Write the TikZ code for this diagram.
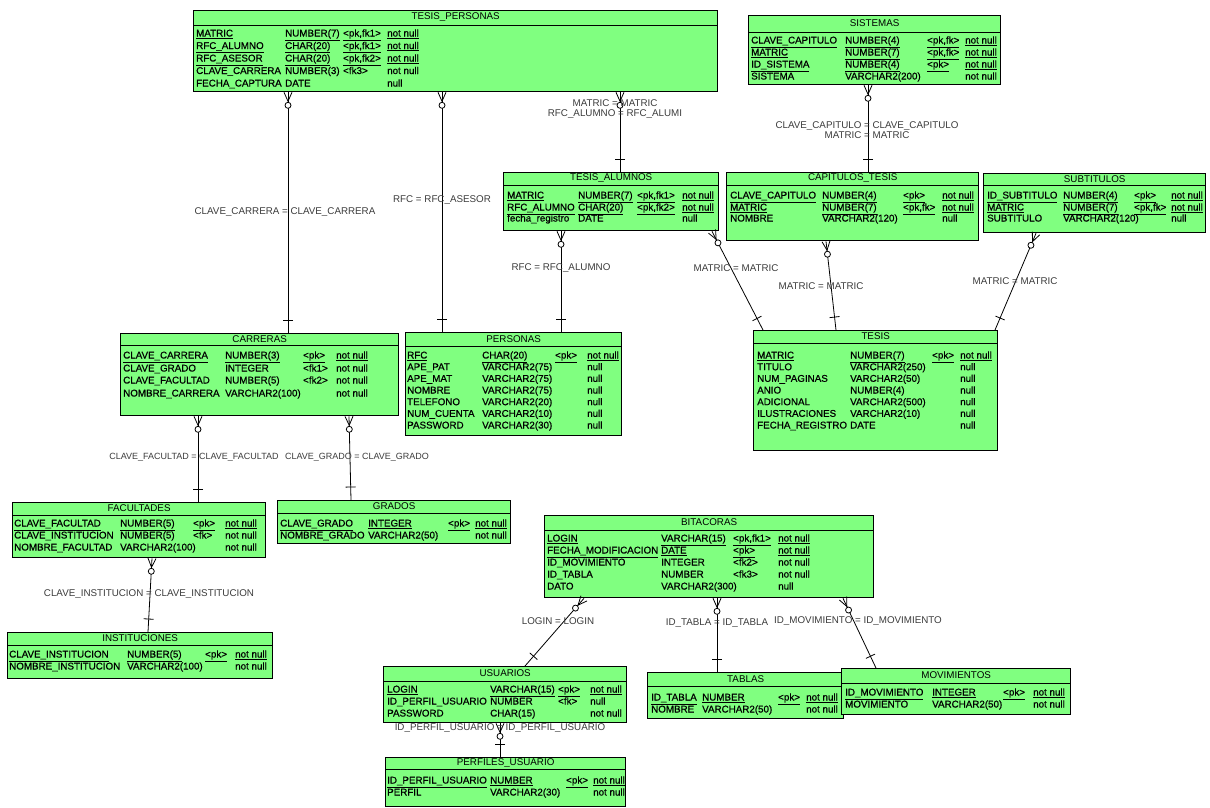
\documentclass[tikz,border=0pt]{standalone}
\usepackage{fontspec}
\setmainfont{Liberation Sans}
\newfontfamily\erfam{Liberation Sans}[FakeBold=0.6]
\usetikzlibrary{calc}
\definecolor{erfill}{RGB}{128,255,128}
\definecolor{lblgray}{RGB}{60,60,60}
\newcount\rowid
\newcount\lblid
\newcommand\erfont{\erfam\fontsize{9.8}{11}\selectfont}
\newcommand\lbfont{\fontsize{9.8}{11}\selectfont}
\tikzset{
  tbl/.style={draw=black, line width=1.3pt, fill=erfill, inner sep=0pt, anchor=north west},
  cell/.style={anchor=base west, inner sep=0pt, font=\erfont},
  ttl/.style={inner sep=0pt, font=\lbfont},
  conn/.style={draw=black, line width=0.8pt},
  sepline/.style={draw=black, line width=0.9pt},
  lbl/.style={inner sep=0pt, text=lblgray, font=\lbfont, align=center},
  smalllbl/.style={font=\fontsize{9}{10}\selectfont},
}
% table box: name, x1, y1, x2, y2, title-line y, title
\newcommand\ertable[7]{%
  \node[tbl, minimum width={(#4-#2)*1pt}, minimum height={(#5-#3)*1pt}] (#1) at (#2,#3) {};
  \draw[sepline] ($(#1.north west)+(0,#6-#3)$) -- ($(#1.north east)+(0,#6-#3)$);
  \node[ttl] (#1-t) at ($(#1.north)+(0,{(#6-#3)/2})$) {#7};
}
\newcommand\cols[4]{\def\cA{#1}\def\cB{#2}\def\cC{#3}\def\cD{#4}}
\newcommand\rowx[5]{%
  \global\advance\rowid by 1
  \node[cell] (r\the\rowid a) at (\cA,#1+3.5) {#2};
  \node[cell] (r\the\rowid b) at (\cB,#1+3.5) {#3};
  \node[cell] (r\the\rowid c) at (\cC,#1+3.5) {#4};
  \node[cell] (r\the\rowid d) at (\cD,#1+3.5) {#5};
}
\newcommand\rowk[5]{\rowx{#1}{\underline{#2}}{\underline{#3}}{\underline{#4}}{\underline{#5}}}
% relation: id, child point, parent point
\newcommand\rel[3]{%
  \coordinate (c#1) at #2;
  \coordinate (p#1) at #3;
  \draw[conn] (c#1) -- (p#1);
  \draw[conn] ($(c#1)!4pt!90:(p#1)$) -- ($(c#1)!9pt!(p#1)$) -- ($(c#1)!4pt!-90:(p#1)$);
  \draw[conn, fill=white] ($(c#1)!13pt!(p#1)$) circle (3pt);
  \coordinate (b#1) at ($(p#1)!13pt!(c#1)$);
  \draw[conn] ($(b#1)!5pt!90:(p#1)$) -- ($(b#1)!5pt!-90:(p#1)$);
}
\newcommand\rlab[4][]{\global\advance\lblid by 1 \node[lbl,#1] (l\the\lblid) at (#2,#3) {#4};}

\begin{document}
\begin{tikzpicture}[x=1pt,y=-1pt]
\path[use as bounding box, fill=white] (0,0) rectangle (1210,807);

% ---------------- tables ----------------
\ertable{tp}{193}{10}{717}{91}{25}{TESIS\_PERSONAS}
\cols{196}{285}{343}{387}
\rowk{33}{MATRIC}{NUMBER(7)}{<pk,fk1>}{not null}
\rowk{45.5}{RFC\_ALUMNO}{CHAR(20)}{<pk,fk1>}{not null}
\rowk{58}{RFC\_ASESOR}{CHAR(20)}{<pk,fk2>}{not null}
\rowx{70.5}{CLAVE\_CARRERA}{NUMBER(3)}{<fk3>}{not null}
\rowx{83}{FECHA\_CAPTURA}{DATE}{}{null}

\ertable{sis}{748}{15}{1000}{84}{32}{SISTEMAS}
\cols{751}{845}{927}{965}
\rowk{40}{CLAVE\_CAPITULO}{NUMBER(4)}{<pk,fk>}{not null}
\rowk{52}{MATRIC}{NUMBER(7)}{<pk,fk>}{not null}
\rowk{64}{ID\_SISTEMA}{NUMBER(4)}{<pk>}{not null}
\rowx{76}{SISTEMA}{VARCHAR2(200)}{}{not null}

\ertable{ta}{503}{172}{718}{230}{185}{TESIS\_ALUMNOS}
\cols{507}{578}{637}{682}
\rowk{195}{MATRIC}{NUMBER(7)}{<pk,fk1>}{not null}
\rowk{207}{RFC\_ALUMNO}{CHAR(20)}{<pk,fk2>}{not null}
\rowx{218}{fecha\_registro}{DATE}{}{null}

\ertable{ct}{726}{172}{978}{240}{185}{CAPITULOS\_TESIS}
\cols{730}{822}{903}{942}
\rowk{195}{CLAVE\_CAPITULO}{NUMBER(4)}{<pk>}{not null}
\rowk{207}{MATRIC}{NUMBER(7)}{<pk,fk>}{not null}
\rowx{218}{NOMBRE}{VARCHAR2(120)}{}{null}

\ertable{sub}{983}{173}{1205}{232}{185}{SUBTITULOS}
\cols{987}{1063}{1134}{1171}
\rowk{195}{ID\_SUBTITULO}{NUMBER(4)}{<pk>}{not null}
\rowk{207}{MATRIC}{NUMBER(7)}{<pk,fk>}{not null}
\rowx{218}{SUBTITULO}{VARCHAR2(120)}{}{null}

\ertable{car}{120}{333}{398}{415}{345}{CARRERAS}
\cols{123}{225}{303}{336}
\rowk{355}{CLAVE\_CARRERA}{NUMBER(3)}{<pk>}{not null}
\rowx{368}{CLAVE\_GRADO}{INTEGER}{<fk1>}{not null}
\rowx{380}{CLAVE\_FACULTAD}{NUMBER(5)}{<fk2>}{not null}
\rowx{393}{NOMBRE\_CARRERA}{VARCHAR2(100)}{}{not null}

\ertable{per}{405}{332}{621}{435}{346}{PERSONAS}
\cols{407}{482}{555}{587}
\rowk{355}{RFC}{CHAR(20)}{<pk>}{not null}
\rowx{366.7}{APE\_PAT}{VARCHAR2(75)}{}{null}
\rowx{378.3}{APE\_MAT}{VARCHAR2(75)}{}{null}
\rowx{390}{NOMBRE}{VARCHAR2(75)}{}{null}
\rowx{401.7}{TELEFONO}{VARCHAR2(20)}{}{null}
\rowx{413.3}{NUM\_CUENTA}{VARCHAR2(10)}{}{null}
\rowx{425}{PASSWORD}{VARCHAR2(30)}{}{null}

\ertable{tes}{753}{330}{997}{450}{343}{TESIS}
\cols{757}{850}{932}{960}
\rowk{355}{MATRIC}{NUMBER(7)}{<pk>}{not null}
\rowx{366.7}{TITULO}{VARCHAR2(250)}{}{null}
\rowx{378.3}{NUM\_PAGINAS}{VARCHAR2(50)}{}{null}
\rowx{390}{ANIO}{NUMBER(4)}{}{null}
\rowx{401.7}{ADICIONAL}{VARCHAR2(500)}{}{null}
\rowx{413.3}{ILUSTRACIONES}{VARCHAR2(10)}{}{null}
\rowx{425}{FECHA\_REGISTRO}{DATE}{}{null}

\ertable{fac}{12}{502}{265}{557}{515}{FACULTADES}
\cols{14}{120}{193}{225}
\rowk{523}{CLAVE\_FACULTAD}{NUMBER(5)}{<pk>}{not null}
\rowx{535}{CLAVE\_INSTITUCION}{NUMBER(5)}{<fk>}{not null}
\rowx{547}{NOMBRE\_FACULTAD}{VARCHAR2(100)}{}{not null}

\ertable{gra}{277}{500}{510}{543}{513}{GRADOS}
\cols{280}{368}{448}{475}
\rowk{523}{CLAVE\_GRADO}{INTEGER}{<pk>}{not null}
\rowx{535}{NOMBRE\_GRADO}{VARCHAR2(50)}{}{not null}

\ertable{ins}{7}{632}{272}{678}{645}{INSTITUCIONES}
\cols{9}{127}{205}{235}
\rowk{654}{CLAVE\_INSTITUCION}{NUMBER(5)}{<pk>}{not null}
\rowx{666}{NOMBRE\_INSTITUCION}{VARCHAR2(100)}{}{not null}

\ertable{bit}{544}{515}{873}{597}{530}{BITACORAS}
\cols{547}{661}{733}{778}
\rowk{538}{LOGIN}{VARCHAR(15)}{<pk,fk1>}{not null}
\rowk{550}{FECHA\_MODIFICACION}{DATE}{<pk>}{not null}
\rowx{562}{ID\_MOVIMIENTO}{INTEGER}{<fk2>}{not null}
\rowx{574}{ID\_TABLA}{NUMBER}{<fk3>}{not null}
\rowx{586}{DATO}{VARCHAR2(300)}{}{null}

\ertable{usu}{383}{666}{626}{722}{681}{USUARIOS}
\cols{387}{490}{558}{590}
\rowk{689}{LOGIN}{VARCHAR(15)}{<pk>}{not null}
\rowx{701}{ID\_PERFIL\_USUARIO}{NUMBER}{<fk>}{null}
\rowx{713}{PASSWORD}{CHAR(15)}{}{not null}

\ertable{tab}{647}{672}{843}{718}{686}{TABLAS}
\cols{651}{702}{778}{806}
\rowk{697}{ID\_TABLA}{NUMBER}{<pk>}{not null}
\rowx{709}{NOMBRE}{VARCHAR2(50)}{}{not null}

\ertable{mov}{841}{668}{1070}{714}{683}{MOVIMIENTOS}
\cols{845}{932}{1003}{1033}
\rowk{692}{ID\_MOVIMIENTO}{INTEGER}{<pk>}{not null}
\rowx{704}{MOVIMIENTO}{VARCHAR2(50)}{}{not null}

\ertable{pu}{385}{757}{625}{806}{769}{PERFILES\_USUARIO}
\cols{387}{490}{566}{593}
\rowk{780}{ID\_PERFIL\_USUARIO}{NUMBER}{<pk>}{not null}
\rowx{792}{PERFIL}{VARCHAR2(30)}{}{not null}

% ---------------- relationships ----------------
\rel{1}{($(tp.south west)+(95,0)$)}{($(car.north west)+(168,0)$)}
\rel{2}{($(tp.south west)+(249,0)$)}{($(per.north west)+(37,0)$)}
\rel{3}{($(tp.south west)+(427,0)$)}{($(ta.north west)+(117,0)$)}
\rel{4}{($(sis.south west)+(120,0)$)}{($(ct.north west)+(142,0)$)}
\rel{5}{($(ta.south west)+(58,0)$)}{($(per.north west)+(156,0)$)}
\rel{6}{($(ta.south west)+(209,0)$)}{($(tes.north west)+(10,0)$)}
\rel{7}{($(ct.south west)+(100,0)$)}{($(tes.north west)+(83,0)$)}
\rel{8}{($(sub.south west)+(53,0)$)}{($(tes.north west)+(242,0)$)}
\rel{9}{($(car.south west)+(78,0)$)}{($(fac.north west)+(186,0)$)}
\rel{10}{($(car.south west)+(229,0)$)}{($(gra.north west)+(74,0)$)}
\rel{11}{($(fac.south west)+(140,0)$)}{($(ins.north west)+(141,0)$)}
\rel{12}{($(bit.south west)+(40,0)$)}{($(usu.north west)+(142,0)$)}
\rel{13}{($(bit.south west)+(173,0)$)}{($(tab.north west)+(70,0)$)}
\rel{14}{($(bit.south west)+(299,0)$)}{($(mov.north west)+(35,0)$)}
\rel{15}{($(usu.south west)+(117,0)$)}{($(pu.north west)+(115,0)$)}

% ---------------- labels ----------------
\rlab{285}{212}{CLAVE\_CARRERA = CLAVE\_CARRERA}
\rlab{442}{200}{RFC = RFC\_ASESOR}
\rlab{615}{109}{MATRIC = MATRIC\\[-1.5pt]RFC\_ALUMNO = RFC\_ALUMI}
\rlab{867}{130}{CLAVE\_CAPITULO = CLAVE\_CAPITULO\\[-1.5pt]MATRIC = MATRIC}
\rlab{561}{268}{RFC = RFC\_ALUMNO}
\rlab{736}{268}{MATRIC = MATRIC}
\rlab{821}{286}{MATRIC = MATRIC}
\rlab{1015}{281}{MATRIC = MATRIC}
\rlab[smalllbl]{194}{457}{CLAVE\_FACULTAD = CLAVE\_FACULTAD}
\rlab[smalllbl]{357}{457}{CLAVE\_GRADO = CLAVE\_GRADO}
\rlab{149}{594}{CLAVE\_INSTITUCION = CLAVE\_INSTITUCION}
\rlab{558}{621}{LOGIN = LOGIN}
\rlab{717}{623}{ID\_TABLA = ID\_TABLA}
\rlab{858}{621}{ID\_MOVIMIENTO = ID\_MOVIMIENTO}
\rlab{500}{728}{ID\_PERFIL\_USUARIO = ID\_PERFIL\_USUARIO}
\end{tikzpicture}
\end{document}
